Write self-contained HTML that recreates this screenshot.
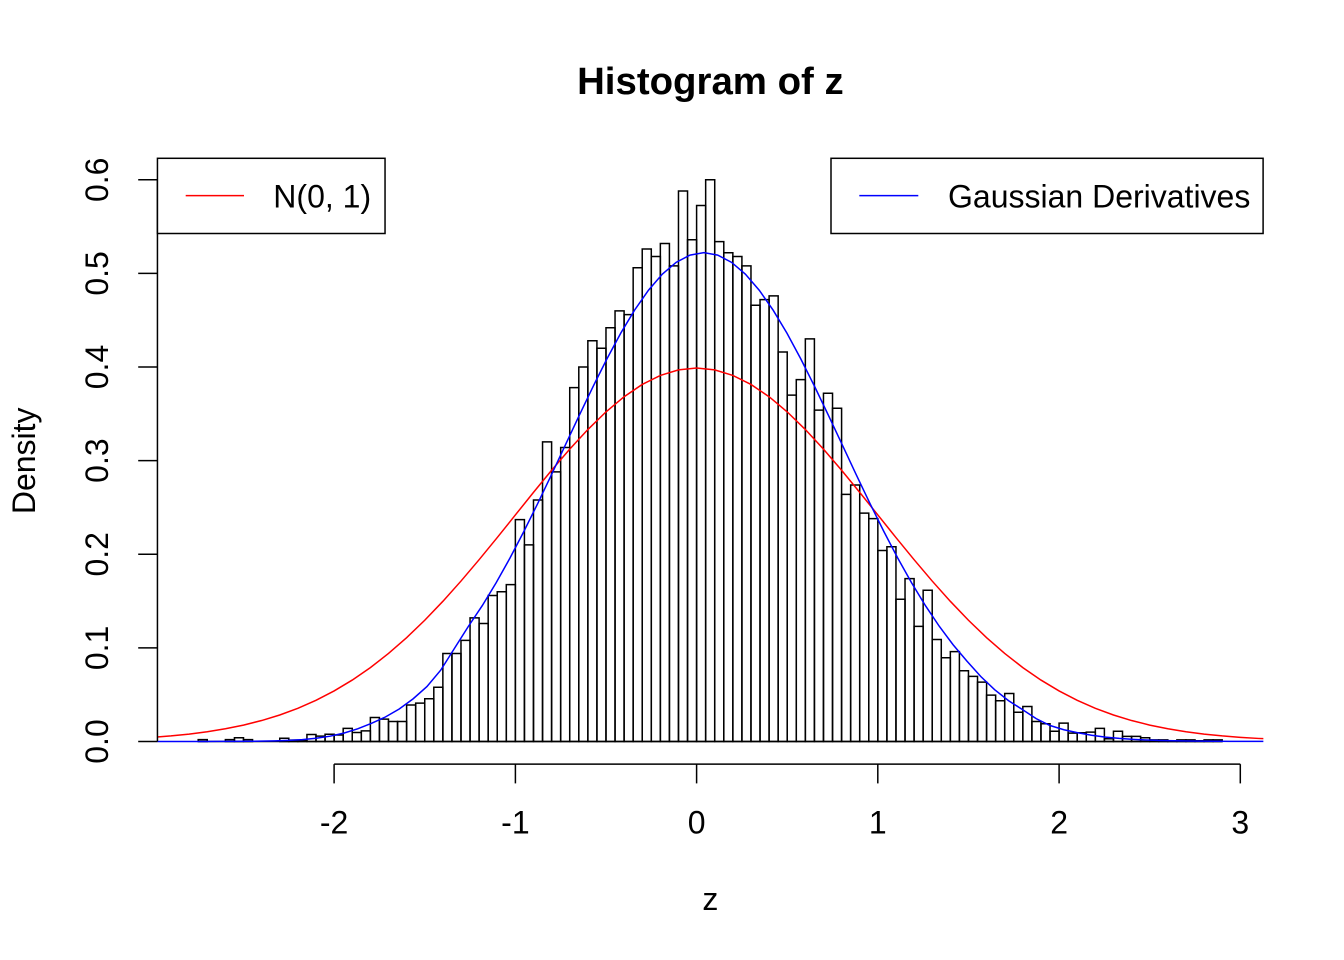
<!DOCTYPE html>
<html>
<head>
<meta charset="utf-8">
<style>
html,body{margin:0;padding:0;background:#fff;}
svg{display:block;}
.d rect,.d polyline,.d line{vector-effect:non-scaling-stroke;}
text{font-family:"Liberation Sans",Arial,sans-serif;fill:#000;}
</style>
</head>
<body>
<svg width="1344" height="960" viewBox="0 0 1344 960" xmlns="http://www.w3.org/2000/svg">
<rect x="0" y="0" width="1344" height="960" fill="#fff"/>
<defs>
<clipPath id="pc"><rect x="157.44" y="157.44" width="1105.92" height="606.72"/></clipPath>
</defs>
<g clip-path="url(#pc)">
<g class="d" transform="matrix(181.24 0 0 -936.2 696.6 741.5)" fill="none" stroke="#000" stroke-width="1.5">
<line x1="-2.75" y1="0" x2="2.9" y2="0"/>
<rect x="-2.75" y="0" width="0.05" height="0.002"/>
<rect x="-2.60" y="0" width="0.05" height="0.002"/>
<rect x="-2.55" y="0" width="0.05" height="0.004"/>
<rect x="-2.50" y="0" width="0.05" height="0.002"/>
<rect x="-2.30" y="0" width="0.05" height="0.0035"/>
<rect x="-2.25" y="0" width="0.05" height="0.0015"/>
<rect x="-2.20" y="0" width="0.05" height="0.001"/>
<rect x="-2.15" y="0" width="0.05" height="0.0075"/>
<rect x="-2.10" y="0" width="0.05" height="0.0057"/>
<rect x="-2.05" y="0" width="0.05" height="0.0078"/>
<rect x="-2.00" y="0" width="0.05" height="0.007"/>
<rect x="-1.95" y="0" width="0.05" height="0.014"/>
<rect x="-1.90" y="0" width="0.05" height="0.0096"/>
<rect x="-1.85" y="0" width="0.05" height="0.0114"/>
<rect x="-1.80" y="0" width="0.05" height="0.0257"/>
<rect x="-1.75" y="0" width="0.05" height="0.0239"/>
<rect x="-1.70" y="0" width="0.05" height="0.0214"/>
<rect x="-1.65" y="0" width="0.05" height="0.0214"/>
<rect x="-1.60" y="0" width="0.05" height="0.039"/>
<rect x="-1.55" y="0" width="0.05" height="0.041"/>
<rect x="-1.50" y="0" width="0.05" height="0.0457"/>
<rect x="-1.45" y="0" width="0.05" height="0.058"/>
<rect x="-1.40" y="0" width="0.05" height="0.094"/>
<rect x="-1.35" y="0" width="0.05" height="0.094"/>
<rect x="-1.30" y="0" width="0.05" height="0.108"/>
<rect x="-1.25" y="0" width="0.05" height="0.132"/>
<rect x="-1.20" y="0" width="0.05" height="0.126"/>
<rect x="-1.15" y="0" width="0.05" height="0.156"/>
<rect x="-1.10" y="0" width="0.05" height="0.160"/>
<rect x="-1.05" y="0" width="0.05" height="0.1676"/>
<rect x="-1.00" y="0" width="0.05" height="0.237"/>
<rect x="-0.95" y="0" width="0.05" height="0.210"/>
<rect x="-0.90" y="0" width="0.05" height="0.258"/>
<rect x="-0.85" y="0" width="0.05" height="0.320"/>
<rect x="-0.80" y="0" width="0.05" height="0.288"/>
<rect x="-0.75" y="0" width="0.05" height="0.314"/>
<rect x="-0.70" y="0" width="0.05" height="0.378"/>
<rect x="-0.65" y="0" width="0.05" height="0.400"/>
<rect x="-0.60" y="0" width="0.05" height="0.428"/>
<rect x="-0.55" y="0" width="0.05" height="0.420"/>
<rect x="-0.50" y="0" width="0.05" height="0.442"/>
<rect x="-0.45" y="0" width="0.05" height="0.460"/>
<rect x="-0.40" y="0" width="0.05" height="0.456"/>
<rect x="-0.35" y="0" width="0.05" height="0.506"/>
<rect x="-0.30" y="0" width="0.05" height="0.526"/>
<rect x="-0.25" y="0" width="0.05" height="0.518"/>
<rect x="-0.20" y="0" width="0.05" height="0.532"/>
<rect x="-0.15" y="0" width="0.05" height="0.508"/>
<rect x="-0.10" y="0" width="0.05" height="0.588"/>
<rect x="-0.05" y="0" width="0.05" height="0.536"/>
<rect x="0.00" y="0" width="0.05" height="0.5725"/>
<rect x="0.05" y="0" width="0.05" height="0.600"/>
<rect x="0.10" y="0" width="0.05" height="0.534"/>
<rect x="0.15" y="0" width="0.05" height="0.522"/>
<rect x="0.20" y="0" width="0.05" height="0.518"/>
<rect x="0.25" y="0" width="0.05" height="0.508"/>
<rect x="0.30" y="0" width="0.05" height="0.466"/>
<rect x="0.35" y="0" width="0.05" height="0.472"/>
<rect x="0.40" y="0" width="0.05" height="0.476"/>
<rect x="0.45" y="0" width="0.05" height="0.416"/>
<rect x="0.50" y="0" width="0.05" height="0.370"/>
<rect x="0.55" y="0" width="0.05" height="0.3865"/>
<rect x="0.60" y="0" width="0.05" height="0.430"/>
<rect x="0.65" y="0" width="0.05" height="0.354"/>
<rect x="0.70" y="0" width="0.05" height="0.372"/>
<rect x="0.75" y="0" width="0.05" height="0.356"/>
<rect x="0.80" y="0" width="0.05" height="0.264"/>
<rect x="0.85" y="0" width="0.05" height="0.274"/>
<rect x="0.90" y="0" width="0.05" height="0.244"/>
<rect x="0.95" y="0" width="0.05" height="0.238"/>
<rect x="1.00" y="0" width="0.05" height="0.204"/>
<rect x="1.05" y="0" width="0.05" height="0.208"/>
<rect x="1.10" y="0" width="0.05" height="0.152"/>
<rect x="1.15" y="0" width="0.05" height="0.174"/>
<rect x="1.20" y="0" width="0.05" height="0.123"/>
<rect x="1.25" y="0" width="0.05" height="0.1615"/>
<rect x="1.30" y="0" width="0.05" height="0.109"/>
<rect x="1.35" y="0" width="0.05" height="0.0895"/>
<rect x="1.40" y="0" width="0.05" height="0.096"/>
<rect x="1.45" y="0" width="0.05" height="0.0756"/>
<rect x="1.50" y="0" width="0.05" height="0.0695"/>
<rect x="1.55" y="0" width="0.05" height="0.0634"/>
<rect x="1.60" y="0" width="0.05" height="0.0495"/>
<rect x="1.65" y="0" width="0.05" height="0.0435"/>
<rect x="1.70" y="0" width="0.05" height="0.0513"/>
<rect x="1.75" y="0" width="0.05" height="0.0313"/>
<rect x="1.80" y="0" width="0.05" height="0.0374"/>
<rect x="1.85" y="0" width="0.05" height="0.0214"/>
<rect x="1.90" y="0" width="0.05" height="0.019"/>
<rect x="1.95" y="0" width="0.05" height="0.011"/>
<rect x="2.00" y="0" width="0.05" height="0.0196"/>
<rect x="2.05" y="0" width="0.05" height="0.009"/>
<rect x="2.10" y="0" width="0.05" height="0.0093"/>
<rect x="2.15" y="0" width="0.05" height="0.01"/>
<rect x="2.20" y="0" width="0.05" height="0.014"/>
<rect x="2.25" y="0" width="0.05" height="0.003"/>
<rect x="2.30" y="0" width="0.05" height="0.011"/>
<rect x="2.35" y="0" width="0.05" height="0.0055"/>
<rect x="2.40" y="0" width="0.05" height="0.0055"/>
<rect x="2.45" y="0" width="0.05" height="0.004"/>
<rect x="2.50" y="0" width="0.05" height="0.0017"/>
<rect x="2.55" y="0" width="0.05" height="0.0017"/>
<rect x="2.60" y="0" width="0.05" height="0.0008"/>
<rect x="2.65" y="0" width="0.05" height="0.0017"/>
<rect x="2.70" y="0" width="0.05" height="0.0017"/>
<rect x="2.75" y="0" width="0.05" height="0.0008"/>
<rect x="2.80" y="0" width="0.05" height="0.0017"/>
<rect x="2.85" y="0" width="0.05" height="0.0017"/>
<polyline stroke="#ff0000" points="-3.0,.00443 -2.9,.00595 -2.8,.00792 -2.7,.01042 -2.6,.01358 -2.5,.01753 -2.4,.02239 -2.3,.02833 -2.2,.03547 -2.1,.04398 -2.0,.05399 -1.9,.06562 -1.8,.07895 -1.7,.09405 -1.6,.11092 -1.5,.12952 -1.4,.14973 -1.3,.17137 -1.2,.19419 -1.1,.21785 -1.0,.24197 -0.9,.26609 -0.8,.28969 -0.7,.31225 -0.6,.33322 -0.5,.35207 -0.4,.36827 -0.3,.38139 -0.2,.39104 -0.1,.39695 0,.39894 0.1,.39695 0.2,.39104 0.3,.38139 0.4,.36827 0.5,.35207 0.6,.33322 0.7,.31225 0.8,.28969 0.9,.26609 1.0,.24197 1.1,.21785 1.2,.19419 1.3,.17137 1.4,.14973 1.5,.12952 1.6,.11092 1.7,.09405 1.8,.07895 1.9,.06562 2.0,.05399 2.1,.04398 2.2,.03547 2.3,.02833 2.4,.02239 2.5,.01753 2.6,.01358 2.7,.01042 2.8,.00792 2.9,.00595 3.0,.00443 3.1,.00327 3.2,.00238"/>
<polyline stroke="#0000ff" points="-3.016,.00001 -2.9396,.00002 -2.8632,.00002 -2.7868,.00003 -2.7104,.00004 -2.634,.00007 -2.5576,.00014 -2.4812,.00023 -2.4048,.00037 -2.3284,.00069 -2.252,.00119 -2.1756,.00199 -2.0992,.00348 -2.0228,.00567 -1.9464,.00893 -1.87,.01358 -1.7936,.01947 -1.7172,.02616 -1.6408,.03468 -1.5644,.04554 -1.488,.05862 -1.4116,.07627 -1.3352,.09972 -1.2588,.12310 -1.1824,.14518 -1.106,.16953 -1.0296,.19598 -0.9532,.22431 -0.8768,.25418 -0.8004,.28514 -0.724,.31672 -0.6476,.34829 -0.5712,.37918 -0.4948,.40870 -0.4184,.43615 -0.342,.46083 -0.2656,.48203 -0.1892,.49920 -0.1128,.51183 -0.0364,.51957 0.04,.52218 0.1164,.51957 0.1928,.51183 0.2692,.49920 0.3456,.48203 0.422,.46083 0.4984,.43615 0.5748,.40870 0.6512,.37918 0.7276,.34829 0.804,.31672 0.8804,.28514 0.9568,.25418 1.0332,.22431 1.1096,.19598 1.186,.16953 1.2624,.14518 1.3388,.12310 1.4152,.10334 1.4916,.08589 1.568,.0694 1.6444,.05535 1.7208,.04369 1.7972,.03415 1.8736,.02443 1.95,.01707 2.0264,.01253 2.1028,.00934 2.1792,.00672 2.2556,.00473 2.332,.00332 2.4084,.00231 2.4848,.00158 2.5612,.00113 2.6376,.0008 2.714,.00057 2.7904,.0004 2.8668,.00028 2.9432,.00019 3.0196,.00013 3.096,.00009 3.1724,.00006"/>
</g>
</g>
<g stroke="#000" stroke-width="1.5" fill="none">
<line x1="334.1" y1="764.16" x2="1240.3" y2="764.16"/>
<line x1="334.1" y1="764.16" x2="334.1" y2="783.4"/>
<line x1="515.4" y1="764.16" x2="515.4" y2="783.4"/>
<line x1="696.6" y1="764.16" x2="696.6" y2="783.4"/>
<line x1="877.8" y1="764.16" x2="877.8" y2="783.4"/>
<line x1="1059.1" y1="764.16" x2="1059.1" y2="783.4"/>
<line x1="1240.3" y1="764.16" x2="1240.3" y2="783.4"/>
<line x1="157.44" y1="741.5" x2="157.44" y2="179.8"/>
<line x1="138.2" y1="741.5" x2="157.44" y2="741.5"/>
<line x1="138.2" y1="647.9" x2="157.44" y2="647.9"/>
<line x1="138.2" y1="554.3" x2="157.44" y2="554.3"/>
<line x1="138.2" y1="460.6" x2="157.44" y2="460.6"/>
<line x1="138.2" y1="367.0" x2="157.44" y2="367.0"/>
<line x1="138.2" y1="273.4" x2="157.44" y2="273.4"/>
<line x1="138.2" y1="179.8" x2="157.44" y2="179.8"/>
</g>
<g font-size="32" text-anchor="middle">
<text x="334.1" y="833.3">-2</text>
<text x="515.4" y="833.3">-1</text>
<text x="696.6" y="833.3">0</text>
<text x="877.8" y="833.3">1</text>
<text x="1059.1" y="833.3">2</text>
<text x="1240.3" y="833.3">3</text>
<text transform="translate(108,741.5) rotate(-90)">0.0</text>
<text transform="translate(108,647.9) rotate(-90)">0.1</text>
<text transform="translate(108,554.3) rotate(-90)">0.2</text>
<text transform="translate(108,460.6) rotate(-90)">0.3</text>
<text transform="translate(108,367.0) rotate(-90)">0.4</text>
<text transform="translate(108,273.4) rotate(-90)">0.5</text>
<text transform="translate(108,179.8) rotate(-90)">0.6</text>
<text x="710.4" y="910">z</text>
<text transform="translate(35,460.8) rotate(-90)">Density</text>
</g>
<text x="710.4" y="94" font-size="38.4" font-weight="bold" text-anchor="middle">Histogram of z</text>
<rect x="157.44" y="158.3" width="227.6" height="75.2" fill="#fff" stroke="#000" stroke-width="1.5"/>
<line x1="185.7" y1="195.6" x2="244" y2="195.6" stroke="#ff0000" stroke-width="1.5"/>
<text x="273.3" y="207.3" font-size="32">N(0, 1)</text>
<rect x="831" y="158.3" width="432.1" height="75.2" fill="#fff" stroke="#000" stroke-width="1.5"/>
<line x1="859.3" y1="195.6" x2="918.3" y2="195.6" stroke="#0000ff" stroke-width="1.5"/>
<text x="948" y="207.3" font-size="32">Gaussian Derivatives</text>
</svg>
</body>
</html>
